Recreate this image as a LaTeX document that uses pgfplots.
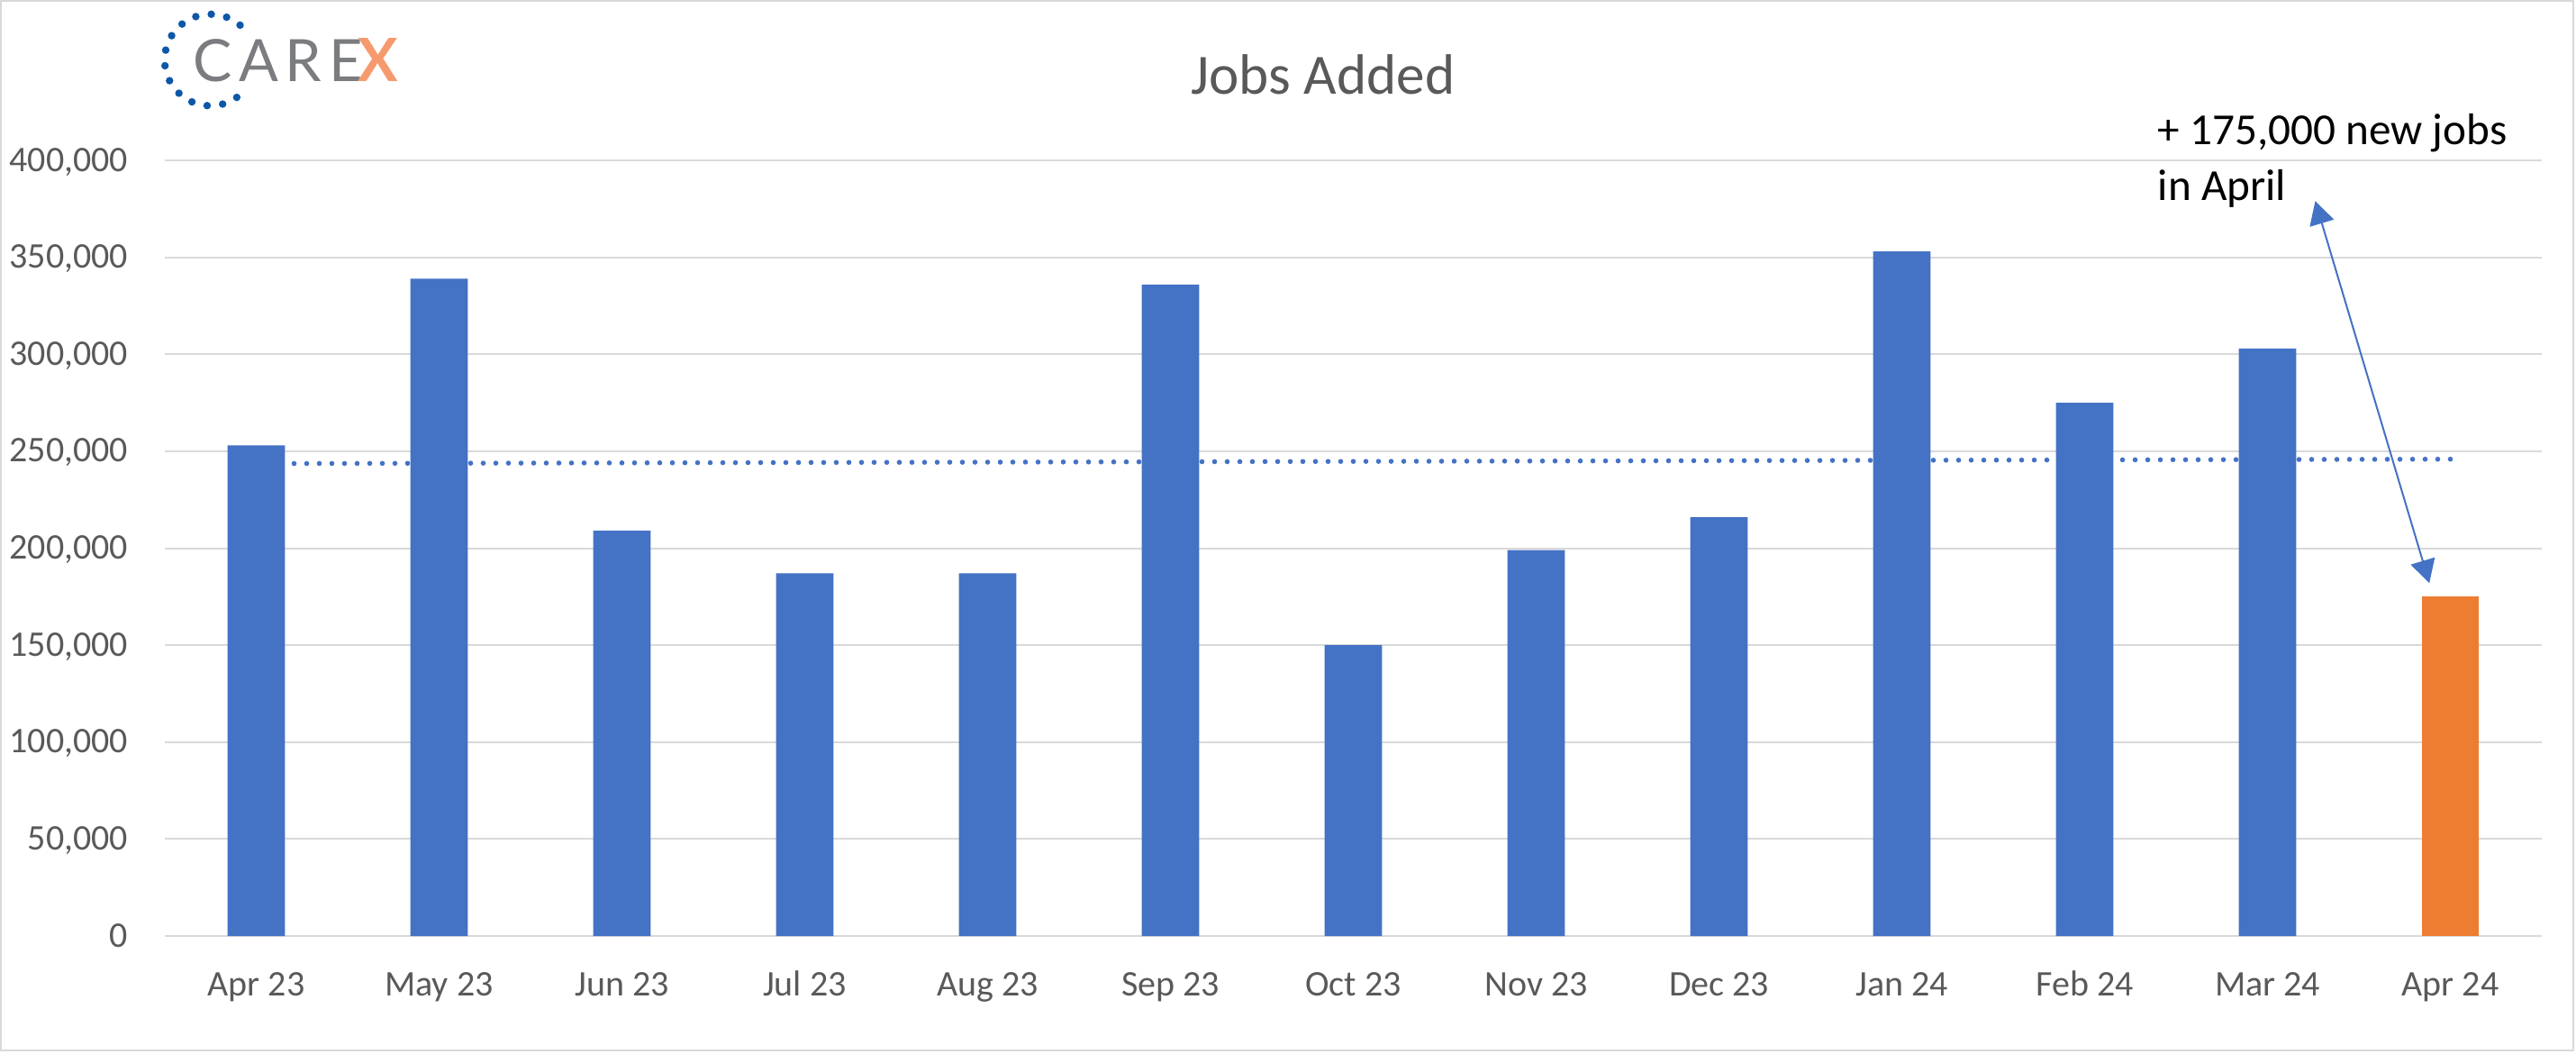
\documentclass[border=0pt]{standalone}
\usepackage{fontspec}
\setmainfont{Carlito}
\newfontfamily\logofont[LetterSpace=12]{Lato}
\newfontfamily\logoxfont{Lato}
\usepackage{pgfplots}
\pgfplotsset{compat=1.18}
\usetikzlibrary{arrows.meta}

\definecolor{barblue}{HTML}{4472C4}
\definecolor{barorange}{HTML}{ED7D31}
\definecolor{gridgray}{HTML}{D9D9D9}
\definecolor{labelgray}{HTML}{595959}
\definecolor{logoblue}{HTML}{0D57A6}
\definecolor{logogray}{HTML}{7B7C7F}
\definecolor{logoorange}{HTML}{F69A6E}

\begin{document}
\begin{tikzpicture}
% 1px of the reference = 0.25pt
\useasboundingbox (0,0) rectangle (715pt,292.25pt);
\draw[gridgray, line width=0.6pt] (0.25pt,0.75pt) rectangle (714.25pt,292pt);

% logo
\foreach \a in {0,...,13}
    \fill[logoblue] (58.4pt,275.6pt) ++({49.6+19.66*\a}:12.7pt) circle (1.05pt);
\node[anchor=base west, inner sep=0pt, text=logogray,
      font=\logofont\fontsize{16.2}{18}\selectfont] at (53.3pt,269.6pt) {CARE};
\node[anchor=base west, inner sep=0pt, text=logoorange,
      font=\logoxfont\bfseries\fontsize{16.6}{18}\selectfont] at (99.2pt,269.6pt) {X};

% title
\node[anchor=base, text=labelgray, font=\fontsize{15.8}{19}\selectfont]
    at (367.25pt,266pt) {Jobs Added};

\begin{axis}[
    at={(45.75pt,32.5pt)}, anchor=south west,
    scale only axis, width=659.75pt, height=215.25pt,
    xmin=-0.5, xmax=12.5, ymin=0, ymax=400000,
    xtick={0,...,12},
    xticklabels={Apr 23, May 23, Jun 23, Jul 23, Aug 23, Sep 23, Oct 23,
                 Nov 23, Dec 23, Jan 24, Feb 24, Mar 24, Apr 24},
    ytick={0,50000,...,400000},
    ymajorgrids,
    grid style={gridgray, line width=0.5pt},
    axis line style={draw=none},
    major tick length=0pt,
    tick label style={font=\fontsize{10}{12}\selectfont, text=labelgray},
    xticklabel style={anchor=base, inner sep=0pt, yshift=-16.5pt},
    yticklabel style={anchor=base east, inner sep=0pt, xshift=-10pt, yshift=-3pt},
    scaled y ticks=false,
    /pgf/number format/fixed,
    /pgf/number format/1000 sep={,},
    /pgf/number format/assume math mode=true,
    clip=false,
]
\addplot[ybar, bar width=0.315, fill=barblue, draw=none] coordinates {
    (0,253000) (1,339000) (2,209000) (3,187000) (4,187000) (5,336000)
    (6,150000) (7,199000) (8,216000) (9,353000) (10,275000) (11,303000)
};
\addplot[ybar, bar width=0.315, fill=barorange, draw=none] coordinates {
    (12,175000)
};
% linear trend
\addplot[barblue, line width=1.4pt, line cap=round, dash pattern=on 0pt off 3.5pt]
    coordinates {(0,243600) (12,245900)};

\draw[{Triangle[length=6.4pt,width=6.9pt]}-{Triangle[length=6.4pt,width=6.9pt]},
      barblue, line width=0.5pt]
    (axis cs:11.885,182000) -- (axis cs:11.261,379000);
\end{axis}

\node[anchor=base west, inner sep=0pt, font=\fontsize{12.3}{15}\selectfont]
    at (598.75pt,252pt) {+ 175,000 new jobs};
\node[anchor=base west, inner sep=0pt, font=\fontsize{12.3}{15}\selectfont]
    at (598.75pt,236.5pt) {in April};
\end{tikzpicture}
\end{document}
